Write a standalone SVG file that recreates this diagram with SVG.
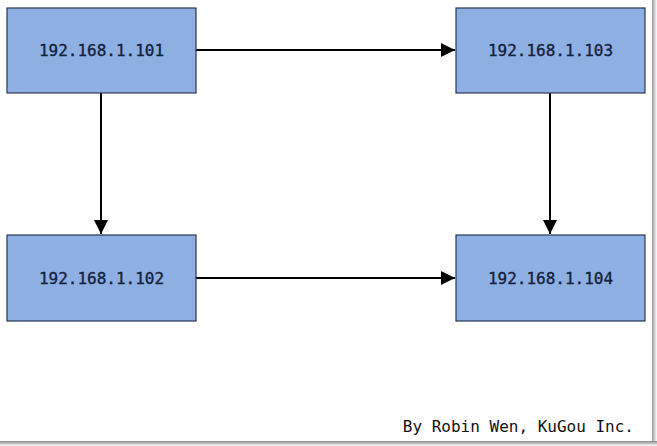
<svg xmlns="http://www.w3.org/2000/svg" width="657" height="446" viewBox="0 0 657 446">
<defs>
<style>
.box{fill:#8EAFE2;stroke:#2A3550;stroke-width:1.2}
.lbl{font-family:"DejaVu Sans Mono","Liberation Mono",monospace;font-size:16px;fill:#14213D;stroke:#14213D;stroke-width:0.35;text-anchor:middle;dominant-baseline:central}
.edge{stroke:#000;stroke-width:2;fill:none}
</style>
<marker id="arr" viewBox="0 0 10 10" refX="10" refY="5" markerWidth="7" markerHeight="7" orient="auto" markerUnits="strokeWidth">
<path d="M0,0 L10,5 L0,10 z" fill="#000"/>
</marker>
<linearGradient id="shR" x1="0" x2="1" y1="0" y2="0">
<stop offset="0" stop-color="#999"/><stop offset="1" stop-color="#fff"/>
</linearGradient>
<linearGradient id="shB" x1="0" x2="0" y1="0" y2="1">
<stop offset="0" stop-color="#888"/><stop offset="1" stop-color="#fff"/>
</linearGradient>
</defs>
<rect width="657" height="446" fill="#fff"/>
<rect x="652" y="0" width="5" height="446" fill="url(#shR)"/>
<rect x="0" y="441" width="657" height="5" fill="url(#shB)"/>
<rect x="0" y="0" width="652" height="441" fill="#fff"/>
<g id="connectors">
<line class="edge" x1="196" y1="50" x2="455" y2="50" marker-end="url(#arr)"/>
<line class="edge" x1="196" y1="278" x2="455" y2="278" marker-end="url(#arr)"/>
<line class="edge" x1="101" y1="93" x2="101" y2="234" marker-end="url(#arr)"/>
<line class="edge" x1="550" y1="93" x2="550" y2="234" marker-end="url(#arr)"/>
</g>
<g id="n101"><rect class="box" x="7" y="8" width="189" height="85"/><text class="lbl" x="101.5" y="50.5">192.168.1.101</text></g>
<g id="n103"><rect class="box" x="456" y="8" width="189" height="85"/><text class="lbl" x="550.5" y="50.5">192.168.1.103</text></g>
<g id="n102"><rect class="box" x="7" y="235" width="189" height="86"/><text class="lbl" x="101.5" y="278">192.168.1.102</text></g>
<g id="n104"><rect class="box" x="456" y="235" width="189" height="86"/><text class="lbl" x="550.5" y="278">192.168.1.104</text></g>
<text x="634" y="432" font-family="DejaVu Sans Mono,Liberation Mono,monospace" font-size="16" fill="#111" text-anchor="end">By Robin Wen, KuGou Inc.</text>
</svg>
